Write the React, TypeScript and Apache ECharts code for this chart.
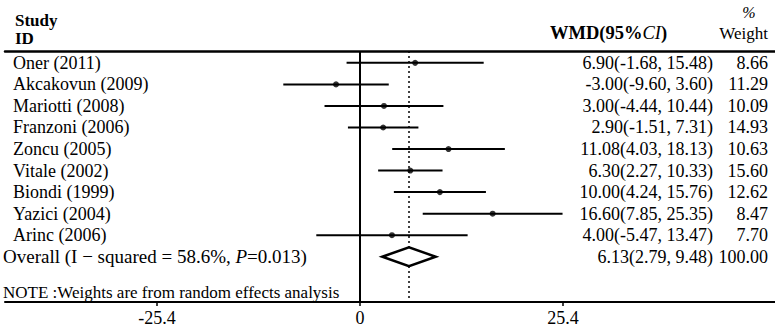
import React, { useEffect, useRef } from "react";
import * as echarts from "echarts";

const studies = [
  "Oner (2011)",
  "Akcakovun (2009)",
  "Mariotti (2008)",
  "Franzoni (2006)",
  "Zoncu (2005)",
  "Vitale (2002)",
  "Biondi (1999)",
  "Yazici (2004)",
  "Arinc (2006)",
];
const estimates = [6.9, -3.0, 3.0, 2.9, 11.08, 6.3, 10.0, 16.6, 4.0];
const lower = [-1.68, -9.6, -4.44, -1.51, 4.03, 2.27, 4.24, 7.85, -5.47];
const upper = [15.48, 3.6, 10.44, 7.31, 18.13, 10.33, 15.76, 25.35, 13.47];
const weights = [8.66, 11.29, 10.09, 14.93, 10.63, 15.6, 12.62, 8.47, 7.7];
const overallEstimate = 6.13;
const overallLower = 2.79;
const overallUpper = 9.48;
const overallWeight = 100.0;
const overallLabel = "Overall (I − squared = 58.6%, {i|P}=0.013)";
const noteLabel = "NOTE :Weights are from random effects analysis";
const xTicks = [-25.4, 0, 25.4];

const FONT = '"Liberation Serif", "Times New Roman", serif';
const FS = 18;

const fmtCI = (e: number, l: number, u: number) =>
  `${e.toFixed(2)}(${l.toFixed(2)}, ${u.toFixed(2)})`;

export default function App() {
  const ref = useRef<HTMLDivElement>(null);
  useEffect(() => {
    if (!ref.current) return;
    const chart = echarts.init(ref.current, null, { renderer: "svg" });
    const overallRow = studies.length;
    const xMin = (5 - 360) / 7.99;
    const xMax = (775 - 360) / 7.99;

    const textStyle = (x: number, y: number, text: string, align: string, extra: any = {}) => ({
      type: "text",
      x,
      y,
      style: {
        text,
        x: 0,
        y: 0,
        align,
        verticalAlign: "middle",
        fontFamily: FONT,
        fontSize: FS,
        fill: "#000",
        ...extra,
      },
    });

    chart.setOption({
      animation: false,
      textStyle: { fontFamily: FONT },
      grid: { left: 5, right: 0, top: 51, bottom: 23, containLabel: false },
      xAxis: [
        {
          type: "value",
          min: xMin,
          max: xMax,
          position: "bottom",
          axisLine: { show: true, onZero: false, lineStyle: { color: "#000", width: 2 } },
          axisTick: {
            show: true,
            customValues: xTicks,
            length: 4,
            lineStyle: { color: "#000", width: 1.5 },
          },
          axisLabel: {
            show: true,
            customValues: xTicks,
            formatter: (v: number) => String(v),
            color: "#000",
            fontFamily: FONT,
            fontSize: FS,
            margin: 7,
          },
          splitLine: { show: false },
        },
        {
          type: "value",
          min: xMin,
          max: xMax,
          position: "top",
          axisLine: { show: true, onZero: false, lineStyle: { color: "#000", width: 2.5 } },
          axisTick: { show: false },
          axisLabel: { show: false },
          splitLine: { show: false },
        },
      ],
      yAxis: {
        type: "value",
        inverse: true,
        min: -0.55,
        max: 11.1,
        show: false,
        splitLine: { show: false },
      },
      graphic: [
        textStyle(15, 20, "Study", "left", { fontWeight: "bold", fontSize: 17 }),
        textStyle(15, 38, "ID", "left", { fontWeight: "bold", fontSize: 17 }),
        {
          type: "text",
          x: 550,
          y: 33,
          style: {
            text: "WMD(95%{i|CI})",
            align: "left",
            verticalAlign: "middle",
            fontFamily: FONT,
            fontSize: 18.5,
            fontWeight: "bold",
            fill: "#000",
            rich: {
              i: { fontFamily: FONT, fontSize: 18.5, fontStyle: "italic", fontWeight: "normal", fill: "#000" },
            },
          },
        },
        textStyle(749, 12, "%", "center", { fontStyle: "italic", fontSize: 16 }),
        textStyle(768, 33, "Weight", "right", { fontSize: 17 }),
        textStyle(3, 292, noteLabel, "left", { fontSize: 17 }),
      ],
      series: [
        {
          type: "custom",
          name: "ci",
          xAxisIndex: 0,
          encode: { x: [0, 1], y: 2 },
          data: studies.map((_, i) => [lower[i], upper[i], i]),
          renderItem: (params: any, api: any) => {
            const r = api.value(2);
            const p1 = api.coord([api.value(0), r]);
            const p2 = api.coord([api.value(1), r]);
            return {
              type: "line",
              shape: { x1: p1[0], y1: p1[1], x2: p2[0], y2: p2[1] },
              style: { stroke: "#000", lineWidth: 2 },
            };
          },
          silent: true,
        },
        {
          type: "scatter",
          name: "est",
          xAxisIndex: 0,
          data: estimates.map((v, i) => [v, i]),
          symbol: "circle",
          symbolSize: 6,
          itemStyle: { color: "#000" },
          silent: true,
          markLine: {
            silent: true,
            symbol: "none",
            label: { show: false },
            data: [
              { xAxis: 0, lineStyle: { color: "#000", type: "solid", width: 2 } },
              { xAxis: overallEstimate, lineStyle: { color: "#000", type: [2, 3], width: 1.5 } },
            ],
          },
        },
        {
          type: "custom",
          name: "overall",
          xAxisIndex: 0,
          encode: { x: [0, 1, 2], y: 3 },
          data: [[overallLower, overallEstimate, overallUpper, overallRow]],
          renderItem: (params: any, api: any) => {
            const r = api.value(3);
            const l = api.coord([api.value(0), r]);
            const m = api.coord([api.value(1), r]);
            const u = api.coord([api.value(2), r]);
            const h = 9.5;
            return {
              type: "polygon",
              shape: {
                points: [
                  [l[0], l[1]],
                  [m[0], m[1] - h],
                  [u[0], u[1]],
                  [m[0], m[1] + h],
                ],
              },
              style: { fill: "#fff", stroke: "#000", lineWidth: 2.5 },
            };
          },
          z: 5,
          silent: true,
        },
        {
          type: "custom",
          name: "labels",
          xAxisIndex: 0,
          encode: { x: 0, y: 1 },
          data: [...studies.map((_, i) => [0, i]), [0, overallRow]],
          renderItem: (params: any, api: any) => {
            const i = params.dataIndex;
            const y = api.coord([0, api.value(1)])[1];
            const isOverall = i === studies.length;
            const name = isOverall ? overallLabel : studies[i];
            const ci = isOverall
              ? fmtCI(overallEstimate, overallLower, overallUpper)
              : fmtCI(estimates[i], lower[i], upper[i]);
            const w = isOverall ? overallWeight : weights[i];
            const base = {
              verticalAlign: "middle",
              fontFamily: FONT,
              fontSize: FS,
              fill: "#000",
            };
            const nameSize = isOverall ? 19 : FS;
            return {
              type: "group",
              children: [
                {
                  type: "text",
                  x: isOverall ? 3 : 13,
                  y,
                  style: {
                    ...base,
                    text: name,
                    align: "left",
                    fontSize: nameSize,
                    rich: {
                      i: {
                        fontFamily: FONT,
                        fontSize: nameSize,
                        fontStyle: "italic",
                        fill: "#000",
                      },
                    },
                  },
                },
                { type: "text", x: 713, y, style: { ...base, text: ci, align: "right" } },
                { type: "text", x: 768, y, style: { ...base, text: w.toFixed(2), align: "right" } },
              ],
            };
          },
          silent: true,
        },
      ],
    });
    return () => chart.dispose();
  }, []);
  return (
    <div
      ref={ref}
      style={{ position: "absolute", left: 0, top: 0, width: 775, height: 327, background: "#fff" }}
    />
  );
}
